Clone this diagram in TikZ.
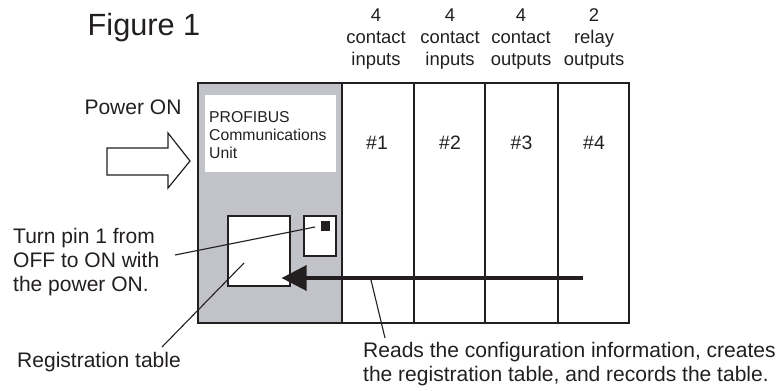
\documentclass[tikz,border=0pt]{standalone}
\usepackage{fontspec}
\setmainfont{Liberation Sans}
\usetikzlibrary{arrows.meta,positioning}
\definecolor{unitgray}{HTML}{C1C3C9}
\definecolor{figink}{HTML}{231F20}

\begin{document}
\begin{tikzpicture}[x=1bp,y=1bp,line join=miter,
    lbl/.style={inner sep=0pt,text=figink,font=\fontsize{21.1}{24.5}\selectfont},
    hdr/.style={inner sep=0pt,align=center,text=figink,font=\fontsize{18.5}{22.5}\selectfont},
    slotno/.style={inner sep=0pt,text=figink,font=\fontsize{19.5}{22}\selectfont},
    leader/.style={draw=figink,line width=1.1bp}]
  \useasboundingbox (0,0) rectangle (784,390);

  % rack with the unit and four slots
  \fill[unitgray] (198,67) rectangle (342,307);
  \fill[white] (205,218) rectangle (336,295);
  \draw[figink,line width=1.6bp] (198,67) rectangle (629,307);
  \foreach \xs in {342,414,485,558}
    \draw[figink,line width=1.4bp] (\xs,67) -- (\xs,307);

  \node[inner sep=0pt,anchor=west,align=left,text=figink,
    font=\fontsize{15.8}{18}\selectfont] (unitlbl) at (209,255)
    {PROFIBUS\\Communications\\Unit};

  % registration table and pin switch
  \node[draw=figink,fill=white,line width=1.2bp,minimum width=62bp,
    minimum height=70bp,inner sep=0pt] (regtab) at (259,139) {};
  \node[draw=figink,fill=white,line width=1.2bp,minimum width=32bp,
    minimum height=40bp,inner sep=0pt] (pinbox) at (320,154) {};
  \node[fill=figink,minimum size=9.5bp,inner sep=0pt] (pin) at (325.5,164) {};

  % titles and slot headers
  \node[inner sep=0pt,text=figink,font=\fontsize{30.8}{34}\selectfont]
    (title) at (144,362) {Figure 1};
  \node[hdr] (hdr1) at (376,351) {4\\contact\\inputs};
  \node[hdr] (hdr2) at (450,351) {4\\contact\\inputs};
  \node[hdr] (hdr3) at (521,351) {4\\contact\\outputs};
  \node[hdr] (hdr4) at (594,351) {2\\relay\\outputs};
  \node[slotno] (s1) at (377,247) {\#1};
  \node[slotno] (s2) at (450,247) {\#2};
  \node[slotno] (s3) at (521.5,247) {\#3};
  \node[slotno] (s4) at (594,247) {\#4};

  % power on arrow
  \node[lbl] (power) at (133,283) {Power ON};
  \draw[figink,fill=white,line width=1.2bp] (107,242) -- (168,242) -- (168,257)
    -- (190,229) -- (168,202) -- (168,215) -- (107,215) -- cycle;

  % notes
  \node[lbl,anchor=west,align=left] (turnpin) at (13,128)
    {Turn pin 1 from\\OFF to ON with\\the power ON.};
  \node[lbl,anchor=west] (regnote) at (17,28) {Registration table};
  \node[lbl,anchor=west,align=left] (readnote) at (363,26)
    {Reads the configuration information, creates\\the registration table, and records the table.};

  \coordinate (pinfoot) at (175,135);
  \coordinate (pinhead) at (315,163);
  \coordinate (regfoot) at (162,43);
  \coordinate (reghead) at (244,127);
  \coordinate (readfoot) at (385,52);
  \coordinate (readhead) at (371,110);
  \coordinate (readstart) at (583,112);
  \coordinate (readtip) at ([xshift=-9bp]regtab.east |- readstart);

  \draw[leader] (pinfoot) -- (pinhead);
  \draw[leader] (regfoot) -- (reghead);
  \draw[leader] (readfoot) -- (readhead);
  \draw[figink,line width=3.4bp,-{Triangle[length=25bp,width=25bp]}]
    (readstart) -- (readtip);
\end{tikzpicture}
\end{document}
